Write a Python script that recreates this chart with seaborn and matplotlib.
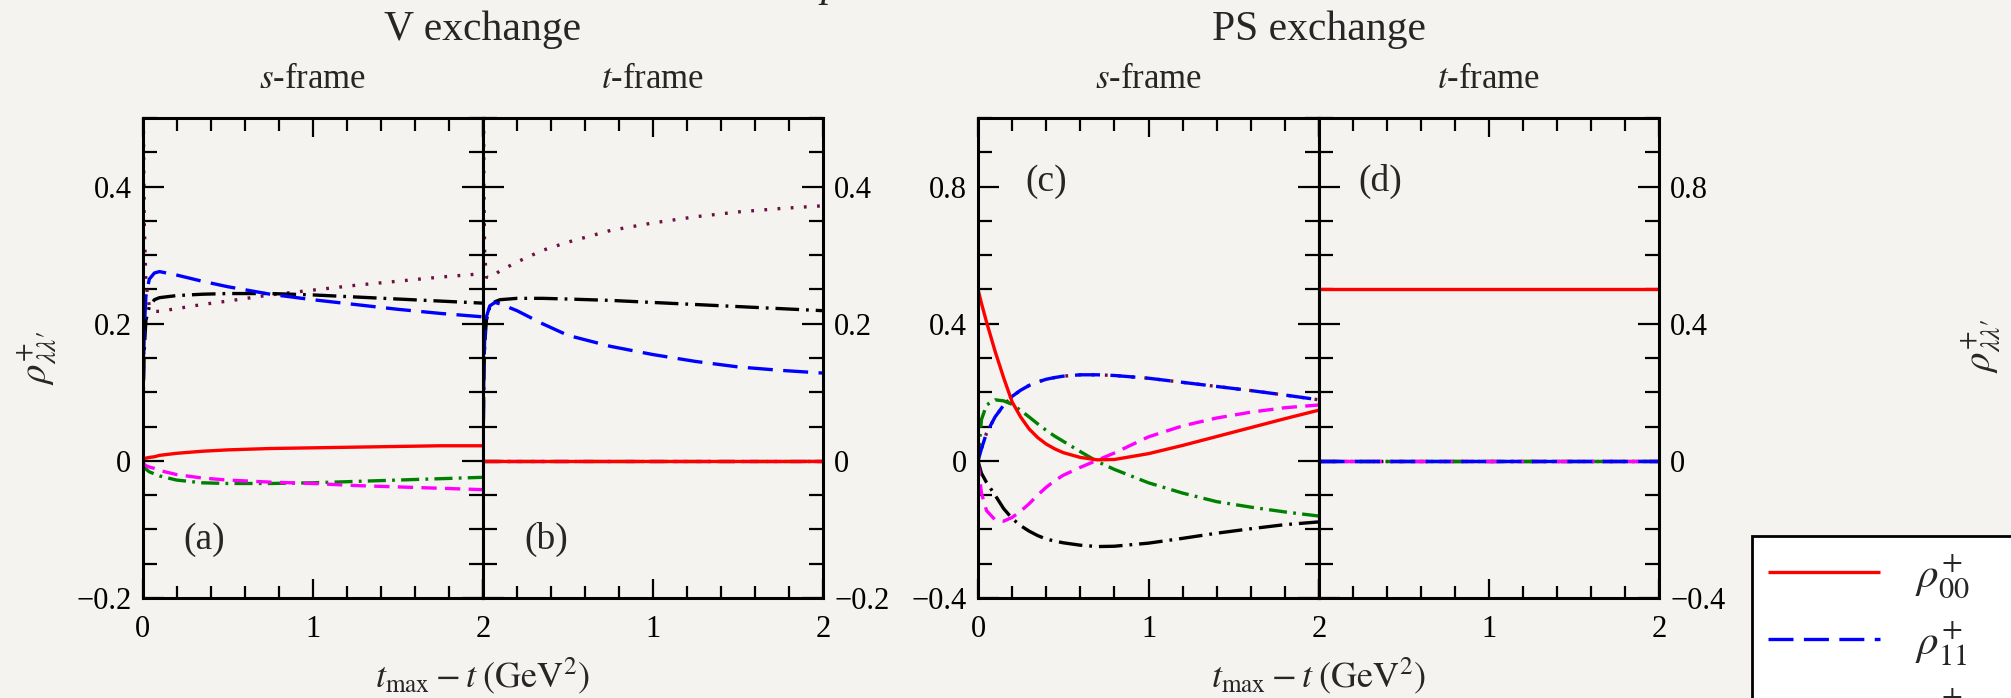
import numpy as np
import pandas as pd
import matplotlib
matplotlib.use("Agg")
import matplotlib.pyplot as plt
from matplotlib.ticker import MultipleLocator, FixedLocator, FuncFormatter
import seaborn as sns

# ---------------- data ----------------
# Panel (a): V exchange, s-frame
x_ab = [0, 0.005, 0.01, 0.02, 0.04, 0.07, 0.1, 0.2, 0.35, 0.5, 0.75, 1.0, 1.25, 1.5, 1.75, 2.0]
a_r00 = [0, 0.002, 0.003, 0.004, 0.005, 0.006, 0.008, 0.011, 0.014, 0.016, 0.018, 0.019, 0.020, 0.021, 0.022, 0.022]
a_r11 = [0, 0.12, 0.19, 0.24, 0.265, 0.274, 0.276, 0.271, 0.262, 0.254, 0.243, 0.235, 0.228, 0.221, 0.215, 0.21]
a_r1m1 = [0, -0.003, -0.005, -0.007, -0.009, -0.011, -0.014, -0.020, -0.025, -0.028, -0.031, -0.033, -0.036, -0.038, -0.040, -0.042]
a_r10 = [0, -0.005, -0.008, -0.012, -0.016, -0.019, -0.022, -0.028, -0.032, -0.033, -0.033, -0.032, -0.030, -0.028, -0.026, -0.024]
a_rm10 = [0, 0.10, 0.16, 0.205, 0.225, 0.235, 0.238, 0.241, 0.243, 0.244, 0.244, 0.242, 0.239, 0.236, 0.233, 0.23]
a_r01 = [0.9, 0.5, 0.35, 0.26, 0.225, 0.218, 0.218, 0.222, 0.228, 0.233, 0.242, 0.249, 0.256, 0.262, 0.268, 0.273]

# Panel (b): V exchange, t-frame
b_r00 = [0] * 16
b_r11 = [0, 0.13, 0.18, 0.21, 0.226, 0.231, 0.229, 0.219, 0.2, 0.183, 0.167, 0.155, 0.145, 0.137, 0.132, 0.128]
b_r1m1 = [0] * 16
b_r10 = [0] * 16
b_rm10 = [0, 0.12, 0.17, 0.205, 0.225, 0.232, 0.235, 0.237, 0.237, 0.236, 0.234, 0.231, 0.228, 0.225, 0.222, 0.219]
b_r01 = [0.8, 0.4, 0.3, 0.268, 0.267, 0.272, 0.277, 0.29, 0.307, 0.319, 0.336, 0.347, 0.356, 0.363, 0.368, 0.372]

# Panel (c): PS exchange, s-frame
x_c = [0, 0.02, 0.05, 0.1, 0.15, 0.2, 0.25, 0.3, 0.35, 0.4, 0.45, 0.5, 0.6, 0.7, 0.8, 1.0, 1.2, 1.4, 1.6, 1.8, 2.0]
c_r00 = [0.5, 0.46, 0.405, 0.32, 0.243, 0.172, 0.128, 0.093, 0.068, 0.049, 0.035, 0.024, 0.01, 0.003, 0.004, 0.021, 0.045, 0.071, 0.097, 0.123, 0.148]
c_r11 = [0, 0.035, 0.081, 0.128, 0.162, 0.188, 0.206, 0.22, 0.23, 0.238, 0.243, 0.247, 0.251, 0.251, 0.249, 0.241, 0.229, 0.217, 0.205, 0.192, 0.178]
c_r1m1 = [0, -0.094, -0.145, -0.172, -0.176, -0.165, -0.147, -0.125, -0.1, -0.077, -0.058, -0.042, -0.019, 0.002, 0.023, 0.07, 0.102, 0.125, 0.142, 0.155, 0.163]
c_r10 = [0, 0.12, 0.163, 0.178, 0.175, 0.165, 0.147, 0.128, 0.108, 0.089, 0.072, 0.057, 0.027, -0.002, -0.025, -0.064, -0.094, -0.119, -0.135, -0.149, -0.161]
c_rm10 = [0, -0.036, -0.063, -0.1, -0.139, -0.168, -0.189, -0.205, -0.218, -0.228, -0.234, -0.239, -0.246, -0.25, -0.249, -0.24, -0.226, -0.211, -0.198, -0.186, -0.178]
c_r01 = [0, 0.035, 0.081, 0.128, 0.162, 0.188, 0.206, 0.22, 0.23, 0.238, 0.243, 0.247, 0.251, 0.251, 0.249, 0.241, 0.229, 0.217, 0.205, 0.192, 0.178]

# Panel (d): PS exchange, t-frame
x_d = [0, 2.0]
d_r00 = [0.5, 0.5]
d_r11 = [0, 0]
d_r1m1 = [0, 0]
d_r10 = [0, 0]
d_rm10 = [0, 0]
d_r01 = [0, 0]

series_keys = ["r00", "r11", "r1m1", "r10", "rm10", "r01"]
legend_labels = [r"$\rho^{+}_{00}$", r"$\rho^{+}_{11}$", r"$\rho^{+}_{1-1}$",
                 r"$\rho^{+}_{10}$", r"$\rho^{+}_{-10}$", r"$\rho^{+}_{01}$"]
panel_labels = ["(a)", "(b)", "(c)", "(d)"]
group_titles = ["V exchange", "PS exchange"]
frame_titles = [r"$s$-frame", r"$t$-frame"]

# ---------------- style ----------------
sns.set_theme(style="ticks")
BG = "#f4f3ef"
plt.rcParams.update({
    "font.family": ["Liberation Serif", "DejaVu Serif"],
    "mathtext.fontset": "stix",
    "axes.unicode_minus": True,
    "lines.scale_dashes": False,
    "figure.facecolor": BG,
    "axes.facecolor": BG,
    "savefig.facecolor": BG,
})

styles = {
    "r00": dict(color="#ff0000", dashes=None),
    "r11": dict(color="#0000ff", dashes=(18, 7.5)),
    "r1m1": dict(color="#ff00ff", dashes=(11, 6)),
    "r10": dict(color="#008000", dashes=(13, 4.5, 2, 4.5)),
    "rm10": dict(color="#000000", dashes=(17, 5, 2, 5)),
    "r01": dict(color="#6b0f45", dashes=(2, 7.5)),
}
draw_order = ["r01", "rm10", "r10", "r1m1", "r11", "r00"]

W, H = 2011, 698
fig = plt.figure(figsize=(W / 100, H / 100), dpi=100)

def fx(px):
    return px / W

def fy(py):
    return 1 - py / H

ax_left = [142.5, 483, 978, 1319]
ax_w = [340.5, 340, 341, 340]
top_px, bot_px = 118, 598

panels = [
    (x_ab, dict(r00=a_r00, r11=a_r11, r1m1=a_r1m1, r10=a_r10, rm10=a_rm10, r01=a_r01)),
    (x_ab, dict(r00=b_r00, r11=b_r11, r1m1=b_r1m1, r10=b_r10, rm10=b_rm10, r01=b_r01)),
    (x_c, dict(r00=c_r00, r11=c_r11, r1m1=c_r1m1, r10=c_r10, rm10=c_rm10, r01=c_r01)),
    (x_d, dict(r00=d_r00, r11=d_r11, r1m1=d_r1m1, r10=d_r10, rm10=d_rm10, r01=d_r01)),
]

LW = 2.4
TICK_FS = 22

def yfmt(v, pos):
    if abs(v) < 1e-9:
        return "0"
    return f"{v:.1f}".replace("-", "\u2212")

axes = []
handles = {}
for i, (xs, ser) in enumerate(panels):
    ax = fig.add_axes([fx(ax_left[i]), fy(bot_px), fx(ax_w[i]), (bot_px - top_px) / H])
    axes.append(ax)
    for key in draw_order:
        df = pd.DataFrame({"x": xs, "y": ser[key]})
        st = styles[key]
        sns.lineplot(data=df, x="x", y="y", ax=ax, color=st["color"], linewidth=LW,
                     estimator=None, sort=False, legend=False, clip_on=True)
        ln = ax.lines[-1]
        if st["dashes"] is not None:
            ln.set_dashes(st["dashes"])
        ln.set_solid_capstyle("butt")
        ln.set_dash_capstyle("butt")
        ln.set_solid_joinstyle("round")
        if i == 0:
            handles[key] = ln
    ax.set_xlim(0, 2)
    if i < 2:
        ax.set_ylim(-0.2, 0.5)
        ax.yaxis.set_major_locator(FixedLocator([-0.2, 0, 0.2, 0.4]))
        ax.yaxis.set_minor_locator(MultipleLocator(0.05))
    else:
        ax.set_ylim(-0.4, 1.0)
        ax.yaxis.set_major_locator(FixedLocator([-0.4, 0, 0.4, 0.8]))
        ax.yaxis.set_minor_locator(MultipleLocator(0.1))
    ax.xaxis.set_major_locator(FixedLocator([0, 1, 2]))
    ax.xaxis.set_minor_locator(MultipleLocator(0.2))
    if i in (1, 3):
        ax.xaxis.set_major_formatter(FuncFormatter(lambda v, p: "" if abs(v) < 1e-9 else f"{v:.0f}"))
    else:
        ax.xaxis.set_major_formatter(FuncFormatter(lambda v, p: f"{v:.0f}"))
    ax.yaxis.set_major_formatter(FuncFormatter(yfmt))
    left_lab = i in (0, 2)
    ax.tick_params(axis="both", which="both", direction="in", top=True, right=True,
                   bottom=True, left=True, width=1.6, colors="black")
    ax.tick_params(axis="y", which="major", length=15, labelsize=TICK_FS, pad=8,
                   labelleft=left_lab, labelright=not left_lab)
    ax.tick_params(axis="y", which="minor", length=10)
    ax.tick_params(axis="x", which="major", length=14, labelsize=TICK_FS, pad=12)
    ax.tick_params(axis="x", which="minor", length=9)
    for sp in ax.spines.values():
        sp.set_linewidth(2.2)
        sp.set_color("black")
        sp.set_visible(True)
    ax.set_xlabel("")
    ax.set_ylabel("")
    lx = [0.36, 0.375, 0.40, 0.36][i]
    ly = [-0.115, -0.115, 0.815, 0.815][i]
    ax.text(lx, ly, panel_labels[i], fontsize=27, ha="center", va="center")

# group and frame titles
for g, cx in enumerate([483, 1319]):
    fig.text(fx(cx), fy(30), group_titles[g], fontsize=30, ha="center", va="center")
for k, cx in enumerate([312, 653, 1148, 1489]):
    fig.text(fx(cx), fy(79), frame_titles[k % 2], fontsize=25, ha="center", va="center")

# x-axis labels
for cx in [483, 1319]:
    fig.text(fx(cx), fy(676), r"$t_{\mathrm{max}} - t\;(\mathrm{GeV}^2)$", fontsize=26,
             ha="center", va="center")

# y-axis labels
ylab = r"$\rho^{+}_{\lambda\lambda\prime}$"
fig.text(fx(37), fy(358), ylab, fontsize=28, ha="center", va="center", rotation=90)
fig.text(fx(1981), fy(346), ylab, fontsize=28, ha="center", va="center", rotation=90)

# cut-off text at top
fig.text(fx(820), 1 + 4 / H, "p", fontsize=30, style="italic", ha="left", va="baseline")

# legend (partly outside the canvas, as in the reference)
leg = fig.legend([handles[k] for k in series_keys], legend_labels,
                 loc="upper left", bbox_to_anchor=(fx(1752), fy(536)),
                 fontsize=31, frameon=True, fancybox=False, framealpha=1,
                 borderpad=0.38, labelspacing=0.42, handlelength=2.6,
                 handletextpad=0.8, borderaxespad=0)
leg.get_frame().set_facecolor("white")
leg.get_frame().set_edgecolor("black")
leg.get_frame().set_linewidth(2.0)

fig.savefig("out.png", dpi=100)
